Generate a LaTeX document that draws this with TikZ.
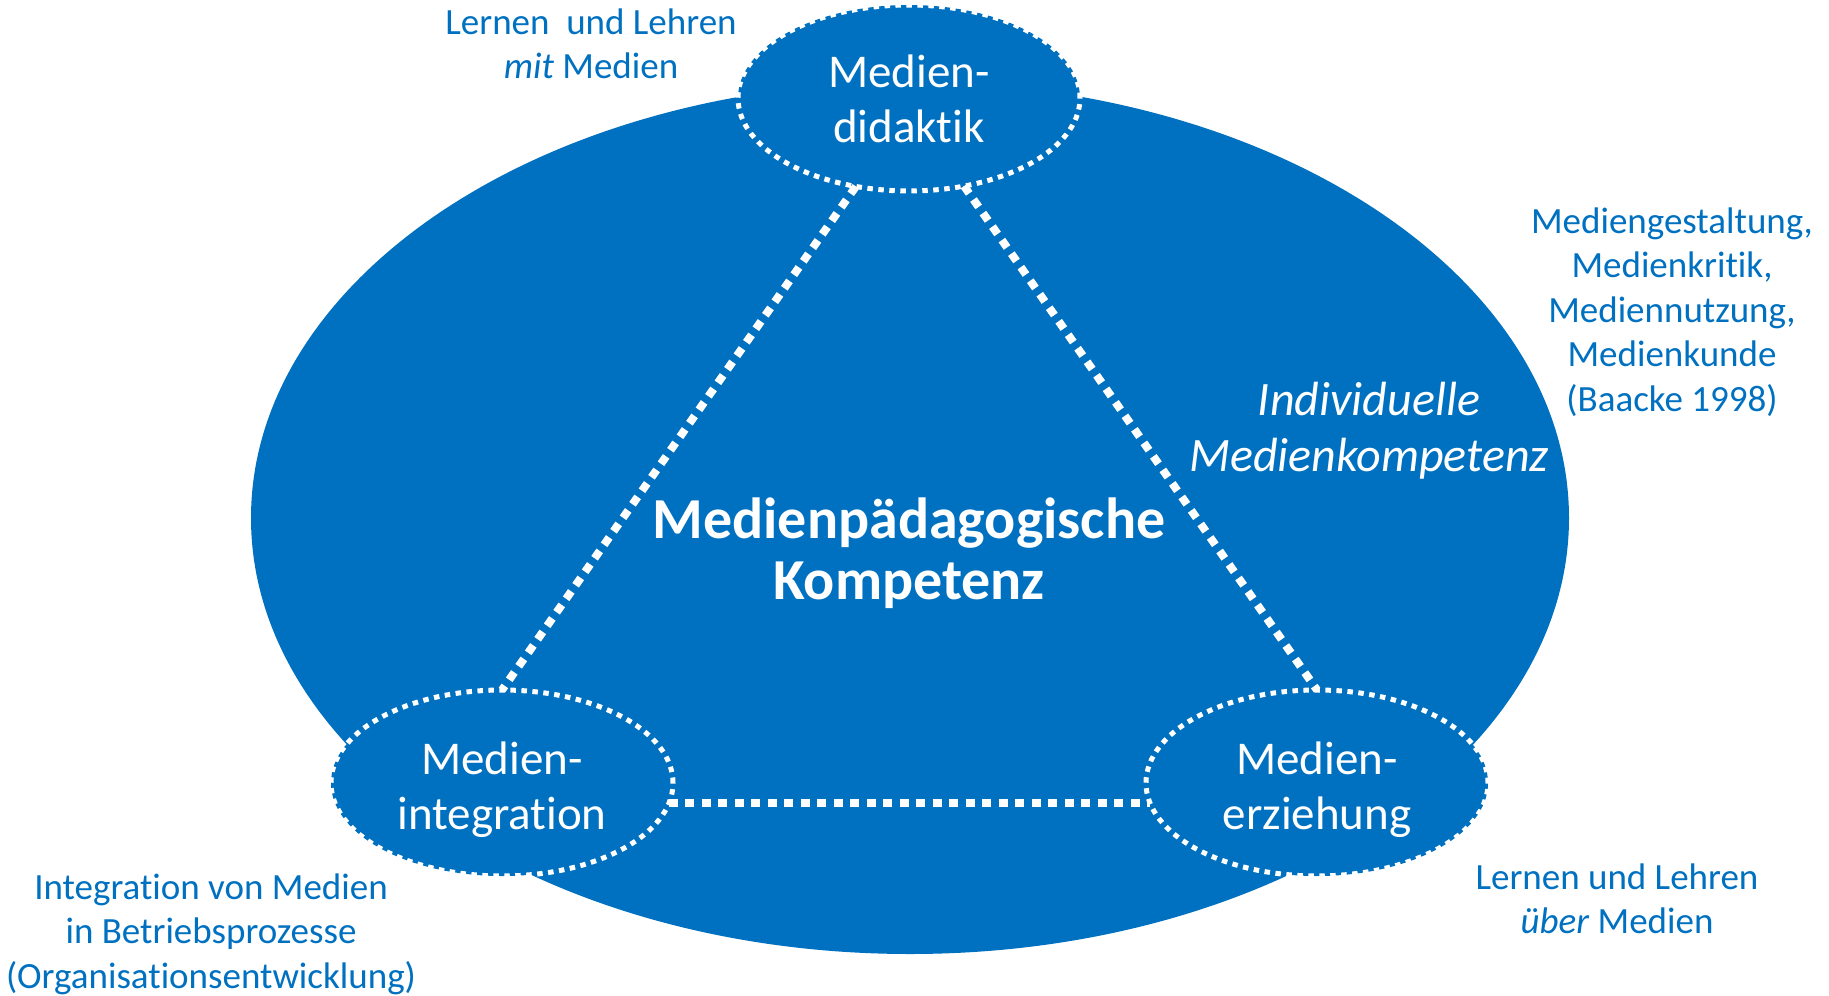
\documentclass[tikz,border=0pt]{standalone}
\usepackage{fontspec}
\setmainfont{Carlito}[RawFeature={-liga;-clig;-calt;-dlig}]
\usetikzlibrary{shapes.geometric}
\definecolor{mblue}{RGB}{0,112,192}
\tikzset{
  smallell/.style={ellipse, fill=mblue, draw=white, line width=5pt,
    dash pattern=on 5.5pt off 5.5pt, minimum width=342pt, minimum height=186pt,
    inner sep=0pt, outer sep=0pt},
  elltext/.style={text=white, align=center, inner sep=0pt,
    font=\fontsize{47}{55}\selectfont},
  conn/.style={draw=white, line width=8pt, dash pattern=on 9pt off 7.5pt},
  lbl/.style={text=mblue, align=center, font=\fontsize{37}{44.5}\selectfont, inner sep=0pt}
}
\begin{document}
\begin{tikzpicture}[x=1pt,y=-1pt]
\path[use as bounding box] (0,0) rectangle (1829,996);
\node[ellipse, fill=mblue, minimum width=1318pt, minimum height=872pt, inner sep=0pt] (big) at (910,518) {};
\node[smallell] (top) at (909,98) {};
\node[smallell] (bl) at (502,783) {};
\node[smallell] (br) at (1317,783) {};
\node[elltext] (toptext) at (909,99) {Medien-\\didaktik};
\node[elltext] (bltext) at (502,790) {Medien-\\integration};
\node[elltext] (brtext) at (1317,790) {Medien-\\erziehung};
\draw[conn] (top.239) -- (bl.north);
\draw[conn] (top.302) -- (br.north);
\draw[conn] (bl.353) -- (br.187);
\node[text=white, align=center, font=\fontsize{58}{61}\bfseries\selectfont, inner sep=0pt] (center) at (909,553) {Medienpädagogische\\Kompetenz};
\node[text=white, align=center, font=\fontsize{48}{56}\itshape\selectfont, inner sep=0pt] (indiv) at (1369,431) {Individuelle\\Medienkompetenz};
\node[lbl] (ltop) at (591,44) {Lernen\ \ und Lehren\\\textit{mit} Medien};
\node[lbl] (lright) at (1672,312) {Mediengestaltung,\\Medienkritik,\\Mediennutzung,\\Medienkunde\\(Baacke 1998)};
\node[lbl] (lbl) at (211,934) {Integration von Medien\\in Betriebsprozesse\\(Organisationsentwicklung)};
\node[lbl] (lbr) at (1617,899) {Lernen und Lehren\\\textit{über} Medien};
\end{tikzpicture}
\end{document}
